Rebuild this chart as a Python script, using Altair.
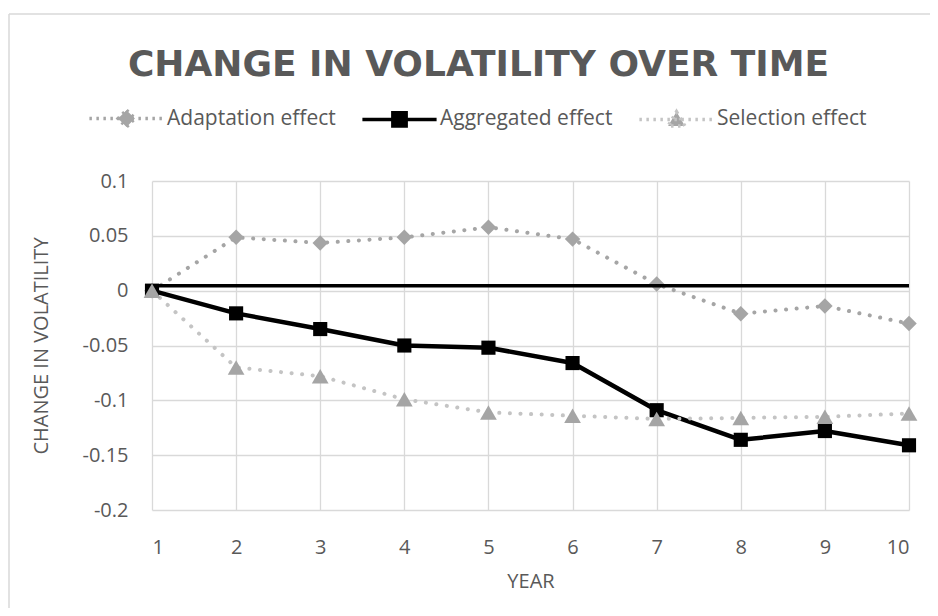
import altair as alt
import pandas as pd

years = [1, 2, 3, 4, 5, 6, 7, 8, 9, 10]
adaptation = [0.0, 0.0486, 0.0435, 0.0486, 0.0578, 0.047, 0.006, -0.021, -0.014, -0.030]
aggregated = [0.0, -0.0207, -0.035, -0.050, -0.052, -0.066, -0.109, -0.136, -0.128, -0.141]
selection = [0.0, -0.070, -0.078, -0.099, -0.111, -0.114, -0.117, -0.116, -0.115, -0.112]
series_names = ["Adaptation effect", "Aggregated effect", "Selection effect"]
ref_level = 0.0045
y_ticks = [-0.2, -0.15, -0.1, -0.05, 0, 0.05, 0.1]

FONT = "Open Sans"
TXT = "#595959"
GRID = "#D9D9D9"

rows = []
for name, vals in zip(series_names, [adaptation, aggregated, selection]):
    for yr, v in zip(years, vals):
        rows.append({"year": yr, "value": v, "series": name})
df = pd.DataFrame(rows)

x_enc = alt.X("year:Q", scale=alt.Scale(domain=[1, 10], nice=False),
              axis=alt.Axis(values=years, format="d", title="YEAR", grid=True,
                            gridColor=GRID, gridWidth=1.3, domain=False, ticks=False,
                            labelPadding=27, titlePadding=14, labelFontSize=20,
                            titleFontSize=20, titleFontWeight="normal",
                            labelColor=TXT, titleColor=TXT, labelFont=FONT, titleFont=FONT))
y_enc = alt.Y("value:Q", scale=alt.Scale(domain=[-0.2, 0.1], nice=False, zero=False),
              axis=alt.Axis(values=y_ticks, title="CHANGE IN VOLATILITY", grid=True,
                            labelExpr="replace(format(datum.value, '.2~f'), '\u2212', '-')",
                            gridColor=GRID, gridWidth=1.3, domain=False, ticks=False,
                            labelPadding=24, titlePadding=31, labelFontSize=20,
                            titleFontSize=20, titleFontWeight="normal",
                            labelColor=TXT, titleColor=TXT, labelFont=FONT, titleFont=FONT))

base = alt.Chart(df)

def series_layers(name, line_color, dash, width, shape, size, mk_color):
    sub = base.transform_filter(alt.datum.series == name)
    line_kwargs = dict(color=line_color, strokeWidth=width, strokeCap="round", strokeJoin="round")
    if dash:
        line_kwargs["strokeDash"] = dash
    ln = sub.mark_line(**line_kwargs).encode(x=x_enc, y=y_enc)
    pt = sub.mark_point(filled=True, shape=shape, size=size, color=mk_color, opacity=1).encode(x=x_enc, y=y_enc)
    return ln, pt

a_ln, a_pt = series_layers("Adaptation effect", "#A5A5A5", [0.1, 10.5], 4, "diamond", 240, "#A5A5A5")
g_ln, g_pt = series_layers("Aggregated effect", "#000000", None, 4.5, "square", 200, "#000000")
s_ln, s_pt = series_layers("Selection effect", "#C4C4C4", [0.1, 10.5], 4, "triangle-up", 280, "#A5A5A5")

ref = alt.Chart(pd.DataFrame({"y": [ref_level], "x": [1], "x2": [10]})).mark_rule(
    color="#000000", strokeWidth=3.5).encode(
    x=alt.X("x:Q", scale=alt.Scale(domain=[1, 10], nice=False)),
    x2="x2:Q",
    y=alt.Y("y:Q", scale=alt.Scale(domain=[-0.2, 0.1], nice=False, zero=False)))

# legend-only layer (no rows drawn)
leg_shapes = [
    "M-5.3,0H5.3M0,-1.2L1.2,0L0,1.2L-1.2,0Z",
    "M-5.3,0H5.3M-0.95,-0.95H0.95V0.95H-0.95Z",
    "M-5.3,0H5.3M0,-1.1L1.2,0.95H-1.2Z",
]
leg_def = alt.Legend(title=None)
leg = base.transform_filter("datum.year < 0").mark_point(filled=False, strokeWidth=3.5, opacity=1).encode(
    x=x_enc, y=y_enc,
    color=alt.Color("series:N", scale=alt.Scale(domain=series_names, range=["#A5A5A5", "#000000", "#C4C4C4"]),
                    legend=leg_def),
    fill=alt.Fill("series:N", scale=alt.Scale(domain=series_names, range=["#A5A5A5", "#000000", "#A5A5A5"]),
                  legend=leg_def),
    shape=alt.Shape("series:N", scale=alt.Scale(domain=series_names, range=leg_shapes),
                    legend=leg_def),
    strokeDash=alt.StrokeDash("series:N", scale=alt.Scale(domain=series_names, range=[[2.5, 4.5], [1, 0], [2.5, 4.5]]),
                              legend=leg_def),
)

frame_left = alt.Chart(pd.DataFrame({"k": [0]})).mark_rule(color=GRID, strokeWidth=1.5).encode(
    x=alt.value(-143), y=alt.value(-167), y2=alt.value(460))
frame_top = alt.Chart(pd.DataFrame({"k": [0]})).mark_rule(color=GRID, strokeWidth=1.5).encode(
    x=alt.value(-143), x2=alt.value(800), y=alt.value(-167))

chart = alt.layer(frame_left, frame_top, a_ln, a_pt, ref, g_ln, g_pt, s_ln, s_pt, leg).properties(
    width=757, height=329,
    title=alt.TitleParams("CHANGE IN VOLATILITY OVER TIME", anchor="middle", frame="group", dx=-52,
                          offset=0, dy=99, baseline="alphabetic", fontSize=36, font="DejaVu Sans",
                          fontWeight="bold", color=TXT),
    autosize=alt.AutoSizeParams(type="none"),
    padding={"left": 144, "top": 173, "right": 21, "bottom": 98},
).configure_view(stroke=None).configure_legend(
    orient="none", legendX=-36, legendY=-73, direction="horizontal",
    labelFont=FONT, labelFontSize=21, labelColor=TXT, symbolSize=196, labelLimit=400,
    labelOffset=30, columnPadding=19, symbolStrokeWidth=3.5, symbolOpacity=1,
)

chart.save("out.html", embed_options={"renderer": "svg", "actions": False})
